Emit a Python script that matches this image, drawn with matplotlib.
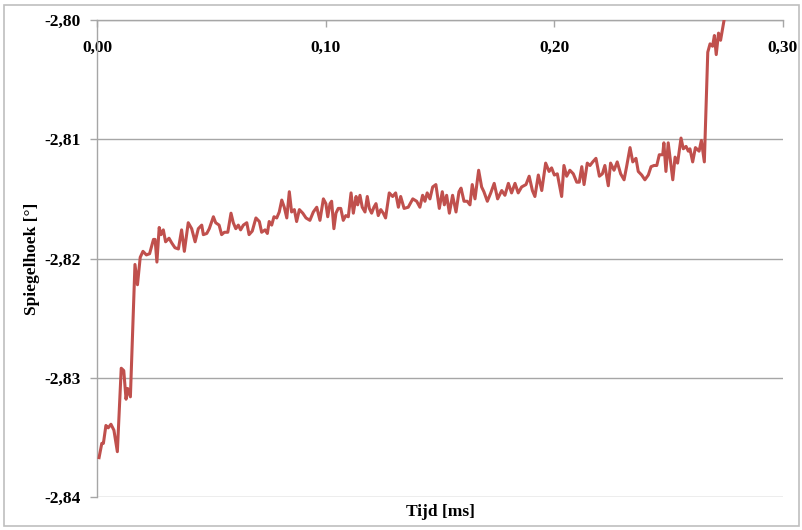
import matplotlib
matplotlib.use("Agg")
import matplotlib.pyplot as plt
from matplotlib.patches import Rectangle

# ---- data ----
tijd_ms = [
    0.0009, 0.0021, 0.0028, 0.0039, 0.0049, 0.0061, 0.0074, 0.0089, 0.0106, 0.0117,
    0.0127, 0.0134, 0.0146, 0.0166, 0.0177, 0.0189, 0.0201, 0.0216, 0.0230, 0.0247,
    0.0254, 0.0262, 0.0272, 0.0280, 0.0290, 0.0300, 0.0315, 0.0327, 0.0341, 0.0356,
    0.0370, 0.0382, 0.0399, 0.0414, 0.0429, 0.0443, 0.0458, 0.0465, 0.0480, 0.0491,
    0.0509, 0.0519, 0.0534, 0.0545, 0.0557, 0.0572, 0.0586, 0.0596, 0.0607, 0.0618,
    0.0628, 0.0640, 0.0655, 0.0665, 0.0679, 0.0695, 0.0710, 0.0720, 0.0735, 0.0745,
    0.0753, 0.0764, 0.0774, 0.0786, 0.0797, 0.0808, 0.0819, 0.0830, 0.0841, 0.0851,
    0.0863, 0.0873, 0.0885, 0.0900, 0.0914, 0.0931, 0.0946, 0.0961, 0.0975, 0.0990,
    0.1001, 0.1009, 0.1019, 0.1026, 0.1036, 0.1045, 0.1055, 0.1066, 0.1077, 0.1088,
    0.1099, 0.1111, 0.1121, 0.1133, 0.1140, 0.1150, 0.1160, 0.1172, 0.1182, 0.1191,
    0.1201, 0.1211, 0.1220, 0.1230, 0.1241, 0.1252, 0.1262, 0.1278, 0.1293, 0.1306,
    0.1318, 0.1328, 0.1343, 0.1361, 0.1381, 0.1398, 0.1412, 0.1424, 0.1434, 0.1444,
    0.1456, 0.1468, 0.1482, 0.1497, 0.1510, 0.1519, 0.1529, 0.1541, 0.1555, 0.1570,
    0.1583, 0.1592, 0.1605, 0.1619, 0.1631, 0.1641, 0.1653, 0.1669, 0.1682, 0.1692,
    0.1707, 0.1722, 0.1737, 0.1752, 0.1770, 0.1784, 0.1799, 0.1813, 0.1828, 0.1842,
    0.1857, 0.1876, 0.1890, 0.1904, 0.1915, 0.1930, 0.1945, 0.1962, 0.1977, 0.1988,
    0.2000, 0.2013, 0.2032, 0.2042, 0.2054, 0.2068, 0.2083, 0.2098, 0.2109, 0.2120,
    0.2130, 0.2144, 0.2156, 0.2168, 0.2182, 0.2197, 0.2210, 0.2221, 0.2236, 0.2246,
    0.2261, 0.2275, 0.2290, 0.2305, 0.2316, 0.2331, 0.2343, 0.2357, 0.2367, 0.2382,
    0.2396, 0.2411, 0.2423, 0.2436, 0.2448, 0.2459, 0.2474, 0.2479, 0.2488, 0.2498,
    0.2509, 0.2518, 0.2528, 0.2539, 0.2554, 0.2564, 0.2576, 0.2586, 0.2593, 0.2605,
    0.2617, 0.2633, 0.2643, 0.2656, 0.2671, 0.2681, 0.2692, 0.2700, 0.2708, 0.2718,
    0.2727, 0.2746,
]
spiegelhoek = [
    -2.8367, -2.8355, -2.8355, -2.8340, -2.8342, -2.8339, -2.8344, -2.8362, -2.8292, -2.8294,
    -2.8318, -2.8309, -2.8316, -2.8205, -2.8222, -2.8199, -2.8194, -2.8197, -2.8196, -2.8184,
    -2.8184, -2.8203, -2.8174, -2.8180, -2.8176, -2.8186, -2.8183, -2.8187, -2.8191, -2.8192,
    -2.8176, -2.8194, -2.8170, -2.8175, -2.8186, -2.8175, -2.8172, -2.8180, -2.8179, -2.8175,
    -2.8165, -2.8170, -2.8172, -2.8180, -2.8178, -2.8178, -2.8162, -2.8170, -2.8175, -2.8172,
    -2.8176, -2.8172, -2.8170, -2.8180, -2.8177, -2.8166, -2.8169, -2.8178, -2.8176, -2.8179,
    -2.8169, -2.8172, -2.8165, -2.8166, -2.8161, -2.8151, -2.8157, -2.8166, -2.8144, -2.8161,
    -2.8159, -2.8169, -2.8159, -2.8162, -2.8166, -2.8168, -2.8161, -2.8157, -2.8168, -2.8150,
    -2.8154, -2.8165, -2.8154, -2.8152, -2.8175, -2.8162, -2.8158, -2.8158, -2.8168, -2.8164,
    -2.8165, -2.8145, -2.8162, -2.8148, -2.8155, -2.8147, -2.8157, -2.8161, -2.8148, -2.8158,
    -2.8162, -2.8157, -2.8154, -2.8164, -2.8159, -2.8162, -2.8166, -2.8145, -2.8148, -2.8145,
    -2.8157, -2.8148, -2.8158, -2.8157, -2.8150, -2.8152, -2.8157, -2.8147, -2.8152, -2.8145,
    -2.8150, -2.8140, -2.8138, -2.8158, -2.8144, -2.8155, -2.8147, -2.8162, -2.8147, -2.8161,
    -2.8144, -2.8141, -2.8152, -2.8152, -2.8155, -2.8138, -2.8150, -2.8126, -2.8140, -2.8144,
    -2.8152, -2.8145, -2.8137, -2.8150, -2.8143, -2.8147, -2.8137, -2.8145, -2.8137, -2.8145,
    -2.8140, -2.8138, -2.8131, -2.8143, -2.8148, -2.8130, -2.8143, -2.8120, -2.8127, -2.8124,
    -2.8130, -2.8129, -2.8148, -2.8122, -2.8131, -2.8126, -2.8129, -2.8136, -2.8136, -2.8123,
    -2.8138, -2.8120, -2.8122, -2.8119, -2.8116, -2.8131, -2.8129, -2.8122, -2.8139, -2.8120,
    -2.8126, -2.8119, -2.8129, -2.8134, -2.8123, -2.8107, -2.8119, -2.8116, -2.8127, -2.8130,
    -2.8134, -2.8130, -2.8123, -2.8122, -2.8122, -2.8113, -2.8113, -2.8103, -2.8127, -2.8103,
    -2.8120, -2.8134, -2.8115, -2.8120, -2.8099, -2.8108, -2.8106, -2.8110, -2.8108, -2.8119,
    -2.8107, -2.8110, -2.8101, -2.8119, -2.8027, -2.8020, -2.8022, -2.8013, -2.8029, -2.8011,
    -2.8017, -2.7996,
]

x_ticks = [0.0, 0.1, 0.2, 0.3]
x_tick_labels = ["0,00", "0,10", "0,20", "0,30"]
y_ticks = [-2.84, -2.83, -2.82, -2.81, -2.80]
y_tick_labels = ["-2,84", "-2,83", "-2,82", "-2,81", "-2,80"]
x_title = "Tijd [ms]"
y_title = "Spiegelhoek [°]"

# ---- style ----
plt.rcParams["font.family"] = ["Liberation Serif", "DejaVu Serif"]
plt.rcParams["font.weight"] = "bold"

W, H = 803, 530
fig = plt.figure(figsize=(W / 100, H / 100), dpi=100)
fig.patch.set_facecolor("white")

# outer chart border
fig.patches.append(Rectangle((4 / W, 1 - 526 / H), 795 / W, 521 / H,
                             transform=fig.transFigure, fill=False,
                             edgecolor="#BFBFBF", linewidth=1.2))

left, right, top, bottom = 97, 783, 20, 497
ax = fig.add_axes([left / W, 1 - bottom / H, (right - left) / W, (bottom - top) / H])

ax.plot(tijd_ms, spiegelhoek, color="#C0504D", linewidth=2.2, zorder=3,
        solid_joinstyle="round")

ax.set_xlim(0.0, 0.3)
ax.set_ylim(-2.84, -2.80)

grid_c = "#A6A6A6"
ax.set_yticks(y_ticks)
ax.set_yticklabels(y_tick_labels)
ax.set_xticks(x_ticks)
ax.set_xticklabels(x_tick_labels)
ax.yaxis.grid(True, color=grid_c, linewidth=1.0)
ax.xaxis.grid(False)
ax.set_axisbelow(True)

for s in ["right", "bottom"]:
    ax.spines[s].set_visible(False)
for s in ["left", "top"]:
    ax.spines[s].set_color(grid_c)
    ax.spines[s].set_linewidth(1.0)

ax.tick_params(axis="y", direction="out", length=5, width=1, color=grid_c,
               pad=7, labelsize=12.5)
ax.tick_params(axis="x", top=True, bottom=False, labeltop=True, labelbottom=False,
               direction="in", length=5, width=1, color=grid_c, pad=-26,
               labelsize=12.5)
for lab in ax.get_xticklabels() + ax.get_yticklabels():
    lab.set_fontweight("bold")

ax.xaxis.set_label_position("bottom")
ax.set_xlabel(x_title, fontsize=12.5, fontweight="bold", labelpad=5)
ax.set_ylabel(y_title, fontsize=12.5, fontweight="bold", labelpad=3)

fig.savefig("out.png", dpi=100, facecolor="white")
